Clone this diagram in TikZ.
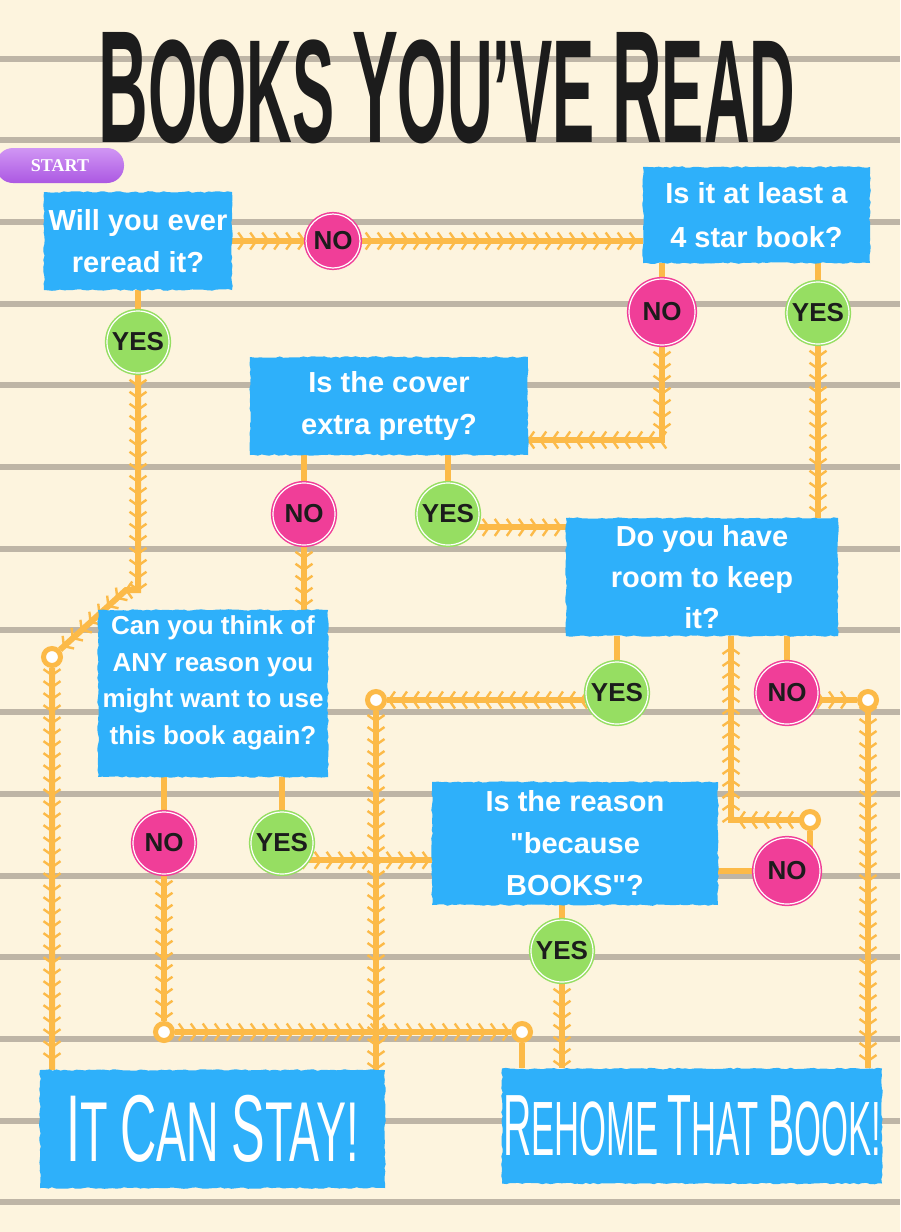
\documentclass[tikz,border=0pt]{standalone}
\usepackage{fontspec}
\setmainfont{Liberation Sans}[Ligatures = TeXOff]
\newfontfamily\startfont{Liberation Serif}
\usetikzlibrary{decorations.markings,decorations.pathmorphing}

\definecolor{paper}{RGB}{253,244,222}
\definecolor{ruling}{RGB}{190,181,166}
\definecolor{sky}{RGB}{46,176,250}
\definecolor{trailorange}{RGB}{252,186,72}
\definecolor{nopink}{RGB}{240,62,152}
\definecolor{yesgreen}{RGB}{150,222,98}
\definecolor{startpurple}{RGB}{172,88,226}
\definecolor{startlight}{RGB}{208,150,244}
\definecolor{ink}{RGB}{28,28,28}

\newcommand\tallcap[2]{{\fontsize{#1}{#1}\selectfont #2}}

\pgfdeclarelayer{paper}
\pgfdeclarelayer{wires}
\pgfsetlayers{paper,wires,main}

\begin{document}
\begin{tikzpicture}[x = 1pt, y = -1pt,
    question/.style = { fill = sky, text = white, align = center, inner sep = 0pt,
      font = \bfseries\fontsize{29}{42}\selectfont,
      decorate, decoration = { random steps, segment length = 4pt, amplitude = .8pt } },
    verdict/.style = { question, font = \fontsize{85}{85}\selectfont },
    answer/.style = { circle, inner sep = 0pt, minimum size = 62pt, text = ink,
      font = \bfseries\fontsize{26}{26}\selectfont, double = white, double distance = 1.2pt, line width = 1.5pt },
    no/.style = { answer, fill = nopink, draw = nopink },
    yes/.style = { answer, fill = yesgreen, draw = yesgreen },
    joint/.style = { circle, draw = trailorange, line width = 5pt, fill = white, minimum size = 17pt, inner sep = 0pt },
    stub/.style = { trailorange, line width = 6pt },
    wire/.style = { stub, postaction = { decorate, decoration = { markings,
      mark = between positions 0 and 1 step 12pt with
        { \draw [trailorange, line width = 2.4pt] (-6pt,8.5pt) -- (0pt,0pt) -- (-6pt,-8.5pt); } } } }]

  \useasboundingbox (0,0) rectangle (900,1232);

  \node [font = \bfseries\fontsize{147}{147}\selectfont, text = ink] (title) at (447,88)
    {\scalebox{.43}[1]{\tallcap{160}{B}OOKS \tallcap{160}{Y}OU’VE \tallcap{160}{R}EAD}};
  \node [rounded corners = 17pt, minimum width = 128pt, minimum height = 35pt, inner sep = 0pt,
    top color = startlight, bottom color = startpurple, text = white,
    font = \startfont\bfseries\fontsize{18}{18}\selectfont] (start) at (60,165.5) {START};

  \node [question, minimum width = 188pt, minimum height = 98pt] (q1) at (138,241) {Will you ever\\reread it?};
  \node [question, minimum width = 227pt, minimum height = 96pt, font = \bfseries\fontsize{29}{44}\selectfont] (q2) at (756.5,215) {Is it at least a\\4 star book?};
  \node [question, minimum width = 278pt, minimum height = 98pt] (q3) at (389,406) {Is the cover\\extra pretty?};
  \node [question, minimum width = 272pt, minimum height = 118pt, font = \bfseries\fontsize{29}{41}\selectfont] (q4) at (702,577) {Do you have\\room to keep\\it?};
  \node [question, minimum width = 230pt, minimum height = 167pt, font = \bfseries\fontsize{26}{36.7}\selectfont] (q5) at (213,693.5)
    {Can you think of\\ANY reason you\\might want to use\\this book again?\\[-10pt]\mbox{}};
  \node [question, minimum width = 286pt, minimum height = 123pt] (q6) at (575,843.5) {Is the reason\\"because\\BOOKS"?};

  \node [verdict, minimum width = 345pt, minimum height = 118pt] (stay) at (212.5,1129)
    {\scalebox{.53}[1]{\tallcap{95}{I}T \tallcap{95}{C}AN \tallcap{95}{S}TAY!}};
  \node [verdict, minimum width = 380pt, minimum height = 115pt, font = \fontsize{77}{77}\selectfont] (rehome) at (692,1126)
    {\scalebox{.45}[1]{\tallcap{87}{R}EHOME \tallcap{87}{T}HAT \tallcap{87}{B}OOK!}};

  \node [no, minimum size = 54pt] (no1) at (333,241) {NO};
  \node [yes] (yes1) at (138,342) {YES};
  \node [no, minimum size = 66pt] (no2) at (662,312) {NO};
  \node [yes] (yes2) at (818,313) {YES};
  \node [no] (no3) at (304,514) {NO};
  \node [yes] (yes3) at (448,514) {YES};
  \node [yes] (yes4) at (617,693) {YES};
  \node [no] (no4) at (787,693) {NO};
  \node [no] (no5) at (164,843) {NO};
  \node [yes] (yes5) at (282,843) {YES};
  \node [no, minimum size = 66pt] (no6) at (787,871) {NO};
  \node [yes] (yes6) at (562,951) {YES};

  \node [joint] (j1) at (52,657) {};
  \node [joint] (j2) at (376,700) {};
  \node [joint] (j3) at (868,700) {};
  \node [joint] (j4) at (164,1032) {};
  \node [joint] (j5) at (522,1032) {};
  \node [joint] (j6) at (810,820) {};
  \coordinate (bend1) at (138,590);
  \coordinate (bend2) at (126,590);
  \coordinate (bend3) at (662,440);
  \coordinate (bend4) at (731,820);

  \begin{pgfonlayer}{paper}
    \fill [paper] (0,0) rectangle (900,1232);
    \foreach \i in {0,...,14}
      \draw [ruling, line width = 6pt] (0,{58.5+81.7*\i}) -- (900,{58.5+81.7*\i});
  \end{pgfonlayer}

  \begin{pgfonlayer}{wires}
    \foreach \q/\c in {q1/yes1, q2/no2, q2/yes2, q3/no3, q3/yes3, q4/yes4, q4/no4, q5/no5, q5/yes5, q6/yes6}
      \draw [stub] (\q.south -| \c) -- (\c);
    \draw [stub] (q6.east |- no6) -- (no6);
    \draw [stub] (j6 |- no6) -- (j6);
    \draw [stub] (j5) -- (j5 |- rehome.north);

    \draw [wire] (q1.east |- no1) -- (no1) -- (no1 -| q2.west);
    \draw [wire] (yes1) -- (bend1) -- (bend2) -- (j1) -- (j1 |- stay.north);
    \draw [wire] (no2) -- (bend3) -- (bend3 -| q3.east);
    \draw [wire] (yes2) -- (yes2 |- q4.north);
    \draw [wire] (no3) -- (no3 |- q5.north);
    \draw [wire] (yes3.-25) -- (yes3.-25 -| q4.west);
    \draw [wire] (yes4 |- j2) -- (j2) -- (j2 |- stay.north);
    \draw [wire] (no4 |- j3) -- (j3) -- (j3 |- rehome.north);
    \draw [wire] (no5) -- (j4) -- (j5);
    \draw [wire] (yes5.-33) -- (yes5.-33 -| q6.west);
    \draw [wire] (j6) -- (bend4) -- (bend4 |- q4.south);
    \draw [wire] (yes6) -- (yes6 |- rehome.north);
  \end{pgfonlayer}
\end{tikzpicture}
\end{document}
